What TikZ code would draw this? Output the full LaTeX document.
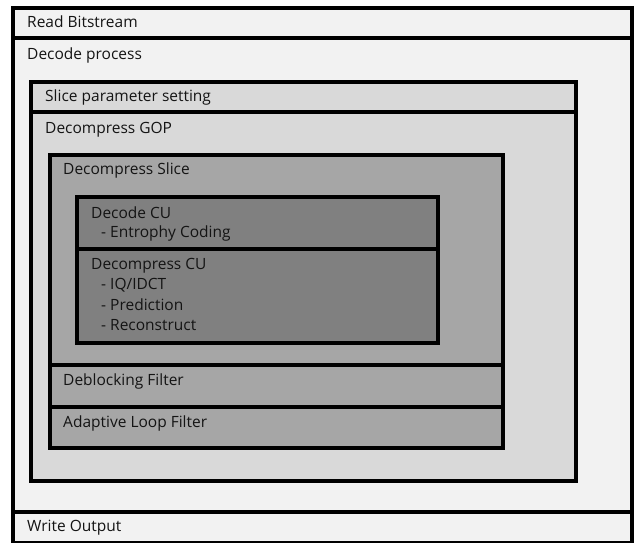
\documentclass[tikz,border=0pt]{standalone}
\usepackage{fontspec}
\setmainfont{Open Sans}
\definecolor{lvA}{HTML}{F2F2F2}
\definecolor{lvB}{HTML}{D9D9D9}
\definecolor{lvC}{HTML}{A6A6A6}
\definecolor{lvD}{HTML}{808080}
\definecolor{txt}{HTML}{141414}
\begin{document}
\begin{tikzpicture}[x=1pt,y=-1pt,
  box/.style={draw=black, line width=3.2pt, anchor=north west, inner sep=0pt, outer sep=0pt},
  lbl/.style={anchor=west, inner sep=0pt, text=txt, font=\fontsize{15.5}{17}\selectfont}]
\useasboundingbox (0,0) rectangle (640,542);
\fill[white] (0,0) rectangle (640,542);
% outer level
\node[box, fill=lvA, minimum width=619pt, minimum height=30pt] (read) at (13,8) {};
\node[box, fill=lvA, minimum width=619pt, minimum height=474pt] (decode) at (13,38) {};
\node[box, fill=lvA, minimum width=619pt, minimum height=31pt] (write) at (13,512) {};
% GOP level
\node[box, fill=lvB, minimum width=545pt, minimum height=30pt] (slicepar) at (31,82) {};
\node[box, fill=lvB, minimum width=545pt, minimum height=369pt] (gop) at (31,112) {};
% slice level
\node[box, fill=lvC, minimum width=453pt, minimum height=210pt] (slice) at (50,155) {};
\node[box, fill=lvC, minimum width=453pt, minimum height=42pt] (deblock) at (50,365) {};
\node[box, fill=lvC, minimum width=453pt, minimum height=41pt] (alf) at (50,407) {};
% CU level
\node[box, fill=lvD, minimum width=361pt, minimum height=52pt] (decodecu) at (77,197) {};
\node[box, fill=lvD, minimum width=361pt, minimum height=94pt] (decompcu) at (77,249) {};
% labels
\node[lbl] (tread) at (27,22) {Read Bitstream};
\node[lbl] (tdecode) at (27,55) {Decode process};
\node[lbl] (tslicepar) at (45,97) {Slice parameter setting};
\node[lbl] (tgop) at (45,130) {Decompress GOP};
\node[lbl] (tslice) at (63,170) {Decompress Slice};
\node[lbl] (tdecodecu) at (91,213) {Decode CU};
\node[lbl] (tentropy) at (101,233) {- Entrophy Coding};
\node[lbl] (tdecompcu) at (91,266) {Decompress CU};
\node[lbl] (tiq) at (101,285) {- IQ/IDCT};
\node[lbl] (tpred) at (101,305) {- Prediction};
\node[lbl] (trec) at (101,325) {- Reconstruct};
\node[lbl] (tdeblock) at (63,381) {Deblocking Filter};
\node[lbl] (talf) at (63,423) {Adaptive Loop Filter};
\node[lbl] (twrite) at (27,528) {Write Output};
\end{tikzpicture}
\end{document}
